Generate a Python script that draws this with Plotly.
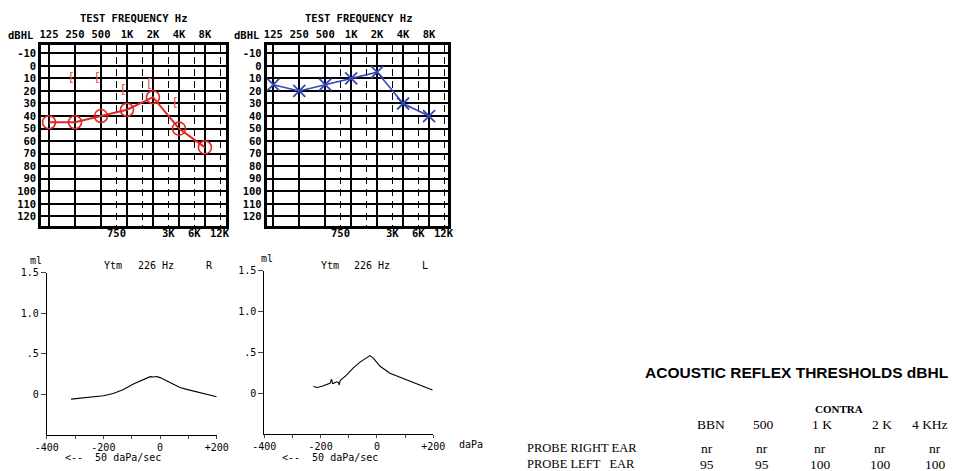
import numpy as np
import plotly.graph_objects as go

W, H = 953, 471
MONO = "DejaVu Sans Mono"
SERIF = "Liberation Serif"
SANS = "Liberation Sans"

# ---------------- data ----------------
freqs = [125, 250, 500, 1000, 2000, 4000, 8000]
freq_labels = ["125", "250", "500", "1K", "2K", "4K", "8K"]
mid_freqs = [750, 1500, 3000, 6000, 12000]
mid_labels = ["750", "", "3K", "6K", "12K"]
db_ticks = list(range(-10, 130, 10))

right_ac = [45, 45, 40, 35, 25, 50, 65]          # red O
bc_freqs = [250, 500, 1000, 2000, 4000]
right_bc = [10, 10, 20, 15, 30]                  # red [
left_ac = [15, 20, 15, 10, 5, 30, 40]            # blue X

tymR_p = [-314, -271, -230, -200, -165, -129, -94, -71, -47, -35, -24, -12, 0, 24, 47, 70, 94, 141, 200]
tymR_v = [-0.058, -0.045, -0.032, -0.017, 0.012, 0.062, 0.128, 0.165, 0.207, 0.219, 0.214, 0.221, 0.207,
          0.165, 0.116, 0.085, 0.062, 0.021, -0.029]

tymL_p = [-226, -218, -212, -195, -179, -167, -161, -158, -155, -143, -136, -134, -131, -129, -108, -84,
          -60, -37, -25, -13, 0, 11, 46, 93, 140, 197]
tymL_v = [0.082, 0.072, 0.07, 0.085, 0.10, 0.12, 0.17, 0.12, 0.12, 0.14, 0.13, 0.10, 0.15, 0.16, 0.22, 0.31,
          0.38, 0.44, 0.46, 0.43, 0.38, 0.33, 0.245, 0.184, 0.12, 0.04]

tym_xticks = [-400, -300, -200, -100, 0, 100, 200]
tym_xlabels = ["-400", "", "-200", "", "0", "", "+200"]
tym_yticks = [0, 0.5, 1.0, 1.5]
tym_ylabels = ["0", ".5", "1.0", "1.5"]

art_cols = ["BBN", "500", "1 K", "2 K", "4 KHz"]
art_right = ["nr", "nr", "nr", "nr", "nr"]
art_left = ["95", "95", "100", "100", "100"]

# ---------------- helpers ----------------
def dx(a, b):
    return [a / W, b / W]

def dy(top, bottom):
    return [1 - bottom / H, 1 - top / H]

def ann(text, x, y, size=10.5, family=MONO, weight="normal", xanchor="center", xref="paper"):
    return dict(text=text, x=x if xref != "paper" else x / W, y=1 - y / H, xref=xref, yref="paper",
                showarrow=False, xanchor=xanchor, yanchor="middle",
                font=dict(family=family, size=size, color="black", weight=weight))

RED = "#e4241f"
BRK = "#ee5a3a"
BLUE = "#3546b8"

fig = go.Figure()

# audiogram right ear
fig.add_trace(go.Scatter(x=freqs, y=right_ac, mode="lines+markers", xaxis="x", yaxis="y",
                         line=dict(color=RED, width=2),
                         marker=dict(symbol="circle-open", size=13, color=RED, line=dict(width=1.6, color=RED)),
                         showlegend=False, hoverinfo="skip"))
fig.add_trace(go.Scatter(x=bc_freqs, y=right_bc, mode="text", text=["["] * len(bc_freqs),
                         textposition="middle left", xaxis="x", yaxis="y",
                         textfont=dict(family=MONO, size=13, color=BRK), showlegend=False, hoverinfo="skip"))
# audiogram left ear
fig.add_trace(go.Scatter(x=freqs, y=left_ac, mode="lines+markers", xaxis="x2", yaxis="y2",
                         line=dict(color=BLUE, width=1.6),
                         marker=dict(symbol="x-thin-open", size=12, color=BLUE, line=dict(width=1.8, color=BLUE)),
                         showlegend=False, hoverinfo="skip"))
# tympanograms
fig.add_trace(go.Scatter(x=tymR_p, y=tymR_v, mode="lines", xaxis="x3", yaxis="y3",
                         line=dict(color="black", width=1.1), showlegend=False, hoverinfo="skip"))
fig.add_trace(go.Scatter(x=tymL_p, y=tymL_v, mode="lines", xaxis="x4", yaxis="y4",
                         line=dict(color="black", width=1.1), showlegend=False, hoverinfo="skip"))

tf_bold = dict(family=MONO, size=10.5, color="black", weight="bold")
tf = dict(family=MONO, size=10, color="black")

def audx(domain, rng):
    return dict(type="log", domain=domain, range=rng, side="top", tickvals=freqs, ticktext=freq_labels,
                showgrid=True, gridcolor="black", gridwidth=1.6, showline=True, mirror=True,
                linewidth=2.5, linecolor="black", ticks="", tickfont=tf_bold, zeroline=False,
                automargin=False,
                minor=dict(tickvals=mid_freqs, showgrid=True, gridcolor="black", gridwidth=1.3,
                           griddash="7px,5px", ticks=""))

def audy(domain):
    return dict(domain=domain, range=[127.6, -16.6], tickvals=db_ticks, ticktext=[str(v) for v in db_ticks],
                showgrid=True, gridcolor="black", gridwidth=1.6, showline=True, mirror=True,
                linewidth=2.5, linecolor="black", ticks="", tickfont=tf_bold, zeroline=False,
                automargin=False)

oct_l = np.log10(125)
step = np.log10(2)

def tymx(domain):
    return dict(domain=domain, range=[-400, 200], tickvals=tym_xticks, ticktext=tym_xlabels,
                showgrid=False, zeroline=False, showline=True, linewidth=1, linecolor="black",
                ticks="outside", ticklen=3, tickwidth=1, tickfont=tf, automargin=False)

def tymy(domain):
    return dict(domain=domain, range=[-0.5, 1.5], tickvals=tym_yticks, ticktext=tym_ylabels,
                showgrid=False, zeroline=False, showline=True, linewidth=1, linecolor="black",
                ticks="outside", ticklen=5, tickwidth=1, tickfont=tf, automargin=False)

fig.update_layout(
    width=W, height=H, margin=dict(l=0, r=0, t=0, b=0, pad=0, autoexpand=False),
    paper_bgcolor="white", plot_bgcolor="white",
    xaxis=dict(audx(dx(41, 226), [oct_l - 0.308 * step, oct_l + 6.81 * step]), anchor="y"),
    yaxis=dict(audy(dy(45, 226)), anchor="x"),
    xaxis2=dict(audx(dx(266.5, 448), [oct_l - 0.262 * step, oct_l + 6.73 * step]), anchor="y2"),
    yaxis2=dict(audy(dy(45, 226)), anchor="x2"),
    xaxis3=dict(tymx(dx(46.7, 216.7)), anchor="y3"),
    yaxis3=dict(tymy(dy(272.7, 435)), anchor="x3"),
    xaxis4=dict(tymx(dx(264.3, 433.3)), anchor="y4"),
    yaxis4=dict(tymy(dy(270.7, 434)), anchor="x4"),
)

anns = []
# audiogram titles
anns.append(ann("TEST FREQUENCY Hz", 133, 18, weight="bold"))
anns.append(ann("TEST FREQUENCY Hz", 358, 18, weight="bold"))
anns.append(ann("dBHL", 35, 35, weight="bold", xanchor="right"))
anns.append(ann("dBHL", 261, 35, weight="bold", xanchor="right"))
for f, lab in zip(mid_freqs, mid_labels):
    if lab:
        anns.append(ann(lab, np.log10(f), 233, weight="bold", xref="x"))
        anns.append(ann(lab, np.log10(f), 233, weight="bold", xref="x2"))

# tympanogram labels
anns.append(ann("ml", 36, 260, size=10))
anns.append(ann("Ytm", 113, 265, size=10))
anns.append(ann("226 Hz", 156, 265, size=10))
anns.append(ann("R", 209, 265, size=10))
anns.append(ann("<--  50 daPa/sec", 63, 457, size=10, xanchor="left"))
anns.append(ann("ml", 267, 258, size=10))
anns.append(ann("Ytm", 330, 265, size=10))
anns.append(ann("226 Hz", 372, 265, size=10))
anns.append(ann("L", 425, 265, size=10))
anns.append(ann("<--  50 daPa/sec", 280, 457, size=10, xanchor="left"))
anns.append(ann("daPa", 457, 444, size=10, xanchor="left"))

# acoustic reflex table
anns.append(ann("ACOUSTIC REFLEX THRESHOLDS dBHL", 643, 372, size=15.5, family=SANS, weight="bold",
                xanchor="left"))
anns.append(ann("CONTRA", 839, 409, size=11, family=SERIF, weight="bold"))
col_x = [711, 763, 822, 882, 935]
for i, c in enumerate(art_cols):
    if i == len(art_cols) - 1:
        anns.append(ann(c, 910, 424, size=13.5, family=SERIF, xanchor="left"))
    else:
        anns.append(ann(c, col_x[i], 424, size=13.5, family=SERIF))
anns.append(ann("PROBE RIGHT EAR", 525, 448, size=12.5, family=SERIF, xanchor="left"))
anns.append(ann("PROBE LEFT   EAR", 525, 464, size=12.5, family=SERIF, xanchor="left"))
vx = [707, 762, 820, 880, 935]
for i in range(len(art_cols)):
    anns.append(ann(art_right[i], vx[i], 448, size=13.5, family=SERIF))
    anns.append(ann(art_left[i], vx[i], 464, size=13.5, family=SERIF))

fig.update_layout(annotations=anns)
fig.write_html("out.html", config={"displayModeBar": False},
               post_script="document.body.style.margin='0';")
